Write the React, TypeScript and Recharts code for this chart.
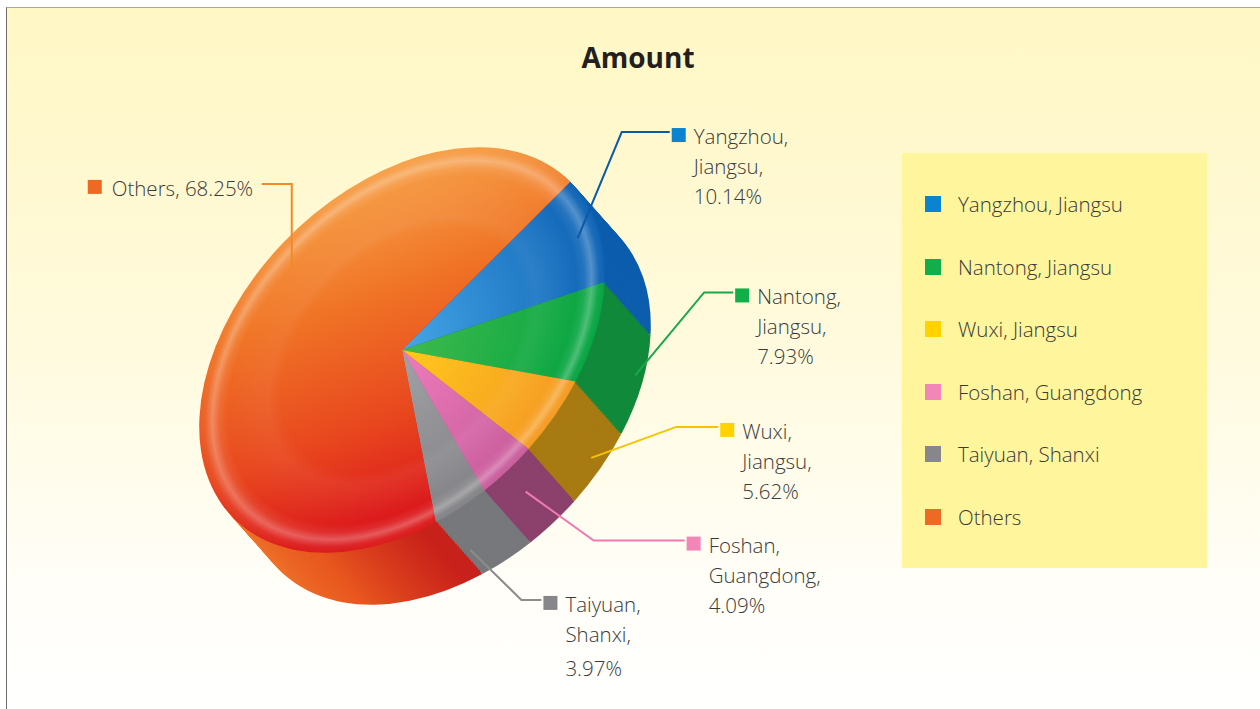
import React from 'react';
import { PieChart, Pie, Cell } from 'recharts';

const regions = [
  'Yangzhou, Jiangsu',
  'Nantong, Jiangsu',
  'Wuxi, Jiangsu',
  'Foshan, Guangdong',
  'Taiyuan, Shanxi',
  'Others',
];
const shares = [10.14, 7.93, 5.62, 4.09, 3.97, 68.25];

const swatch = ['#0a84d0', '#12ae4a', '#ffd200', '#f286b8', '#87878b', '#ee6a24'];
const leader = ['#0a5aa8', '#1aa84a', '#f7c300', '#f07ab0', '#8c8c8c', '#f28a2a'];
const topInner = ['#45a6e6', '#3fba4c', '#ffc91c', '#ee7cbc', '#a2a2a6', ''];
const topOuter = ['#0d62b4', '#06a442', '#f59a22', '#c95c9c', '#838387', ''];
const sideFill = ['#0c5dad', '#11893a', '#a87a12', '#8c406c', '#77787b', 'url(#side-others)'];

const data = regions.map((name, i) => ({ name, value: shares[i] }));

// geometry of the tilted disc
const CX = 402;
const CY = 350;
const R = 238;
const K = 160 / 238;
const A = (1 + K) / 2;
const B = (K - 1) / 2;
const VX = 46;
const VY = 52;
const E0 = CX - (A * CX + B * CY);
const F0 = CY - (B * CX + A * CY);
const STEPS = 26;
const steps = Array.from({ length: STEPS }, (_, i) => STEPS - i);

const mat = (dx: number, dy: number) =>
  `matrix(${A},${B},${B},${A},${E0 + dx},${F0 + dy})`;

const css =
  `.top-face .recharts-sector{transform:${mat(0, 0)}}` +
  steps
    .map((s) => `.side-${s} .recharts-sector{transform:${mat((VX * s) / STEPS, (VY * s) / STEPS)}}`)
    .join('');

const labelLayout = [
  { da: 0, rf: 0.9, g: 0, dx: 44, dy: -106, h: 48 },
  { da: 0, rf: 1, g: 0.85, dx: 69, dy: -83, h: 29 },
  { da: 0, rf: 1, g: 0.8, dx: 85, dy: -31, h: 42 },
  { da: 0, rf: 1, g: 0.4, dx: 68, dy: 49, h: 91 },
  { da: -7, rf: 0.92, g: 0.8, dx: 51, dy: 50, h: 20 },
  { da: -27, rf: 0.85, g: 0, dx: 0, dy: -85, h: -30 },
];

const font = '"Open Sans", "DejaVu Sans", sans-serif';
const RAD = Math.PI / 180;

const renderLabel = (props: any) => {
  const { cx, cy, midAngle, index } = props;
  const L = labelLayout[index];
  const ang = (midAngle + L.da) * RAD;
  const px = L.rf * R * Math.cos(ang);
  const py = -L.rf * R * Math.sin(ang);
  const ax = cx + A * px + B * py + L.g * VX;
  const ay = cy + B * px + A * py + L.g * VY;
  const ex = ax + L.dx;
  const ey = ay + L.dy;
  const hx = ex + L.h;
  const parts = regions[index].split(', ');
  const pct = `${shares[index].toFixed(2)}%`;
  const lines = index === 5 ? [`${parts[0]}, ${pct}`] : [...parts.map((p) => `${p},`), pct];
  const sqX = L.h > 0 ? hx + 2 : hx - 174;
  const txX = L.h > 0 ? hx + 24 : hx - 150;
  return (
    <g key={`lbl-${index}`}>
      <polyline
        points={`${ax},${ay} ${ex},${ey} ${hx},${ey}`}
        fill="none"
        stroke={leader[index]}
        strokeWidth={2}
      />
      <rect x={sqX} y={ey - 4} width={14} height={14} fill={swatch[index]} />
      <text x={txX} y={ey + 12} fontFamily={font} fontWeight={300} fontSize={20.5} fill="#3a3a3a">
        {lines.map((t, j) => (
          <tspan key={j} x={txX} dy={j === 0 ? 0 : index === 4 && j === 2 ? 34 : 30}>
            {t}
          </tspan>
        ))}
      </text>
    </g>
  );
};

const pieBase = {
  data,
  dataKey: 'value',
  nameKey: 'name',
  cx: CX,
  cy: CY,
  outerRadius: R,
  startAngle: 45,
  endAngle: -315,
  stroke: 'none',
  labelLine: false,
  isAnimationActive: false,
};

export default function App() {
  return (
    <div style={{ position: 'absolute', left: 0, top: 0, width: 1260, height: 709, overflow: 'hidden', background: '#fff' }}>
      <style>{css}</style>
      <div
        style={{
          position: 'absolute',
          left: 6,
          top: 7,
          width: 1270,
          height: 720,
          borderLeft: '1.5px solid #6e6e6e',
          borderTop: '1px solid #a8a8a0',
          background: 'linear-gradient(to bottom, #fff7c4 0%, #fffadc 45%, #fffef8 80%, #ffffff 100%)',
        }}
      />
      <div style={{ position: 'absolute', left: 0, top: 0 }}>
        <PieChart width={1260} height={709} margin={{ top: 0, right: 0, bottom: 0, left: 0 }}>
          <defs>
            {regions.slice(0, 5).map((r, i) => (
              <radialGradient key={r} id={`top-${i}`} gradientUnits="userSpaceOnUse" cx={CX} cy={CY} r={R}>
                <stop offset="0%" stopColor={topInner[i]} />
                <stop offset="100%" stopColor={topOuter[i]} />
              </radialGradient>
            ))}
            <linearGradient id="top-5" x1="0" y1="0" x2="0.15" y2="1">
              <stop offset="0%" stopColor="#f8ac52" />
              <stop offset="40%" stopColor="#f07426" />
              <stop offset="75%" stopColor="#e8461e" />
              <stop offset="100%" stopColor="#dc1a1c" />
            </linearGradient>
            <radialGradient id="rim-glow" gradientUnits="userSpaceOnUse" cx={CX} cy={CY} r={R}>
              <stop offset="0%" stopColor="#ffffff" stopOpacity={0} />
              <stop offset="60%" stopColor="#ffffff" stopOpacity={0} />
              <stop offset="66%" stopColor="#ffffff" stopOpacity={0.05} />
              <stop offset="86%" stopColor="#ffffff" stopOpacity={0} />
              <stop offset="90%" stopColor="#ffffff" stopOpacity={0.08} />
              <stop offset="93.5%" stopColor="#ffffff" stopOpacity={0.28} />
              <stop offset="97%" stopColor="#ffffff" stopOpacity={0.05} />
              <stop offset="100%" stopColor="#ffffff" stopOpacity={0} />
            </radialGradient>
            <linearGradient id="side-others" gradientUnits="userSpaceOnUse" x1={200} y1={0} x2={470} y2={0}>
              <stop offset="0%" stopColor="#f07a2c" />
              <stop offset="55%" stopColor="#e8561e" />
              <stop offset="100%" stopColor="#c8201a" />
            </linearGradient>
          </defs>
          <text x={638} y={68} textAnchor="middle" fontFamily={font} fontWeight={700} fontSize={28} fill="#231f20">
            Amount
          </text>
          {steps.map((s) => (
            <Pie key={`side-${s}`} className={`side-${s}`} {...pieBase} label={false}>
              {data.map((d, i) => (
                <Cell key={d.name} fill={sideFill[i]} />
              ))}
            </Pie>
          ))}
          <Pie className="top-face" {...pieBase} label={false}>
            {data.map((d, i) => (
              <Cell key={d.name} fill={`url(#top-${i})`} />
            ))}
          </Pie>
          <Pie className="top-face" {...pieBase} label={renderLabel}>
            {data.map((d) => (
              <Cell key={d.name} fill="url(#rim-glow)" />
            ))}
          </Pie>
        </PieChart>
      </div>
      <div
        style={{
          position: 'absolute',
          left: 902,
          top: 153,
          width: 305,
          height: 415,
          background: '#fef59c',
          fontFamily: font,
          fontWeight: 300,
          fontSize: 20.5,
          color: '#3a3a3a',
        }}
      >
        {regions.map((r, i) => (
          <div key={r} style={{ position: 'absolute', left: 23, top: 36 + i * 62.6, display: 'flex', alignItems: 'center', height: 30 }}>
            <div style={{ width: 16, height: 16, background: swatch[i], marginRight: 17 }} />
            <span>{r}</span>
          </div>
        ))}
      </div>
    </div>
  );
}
